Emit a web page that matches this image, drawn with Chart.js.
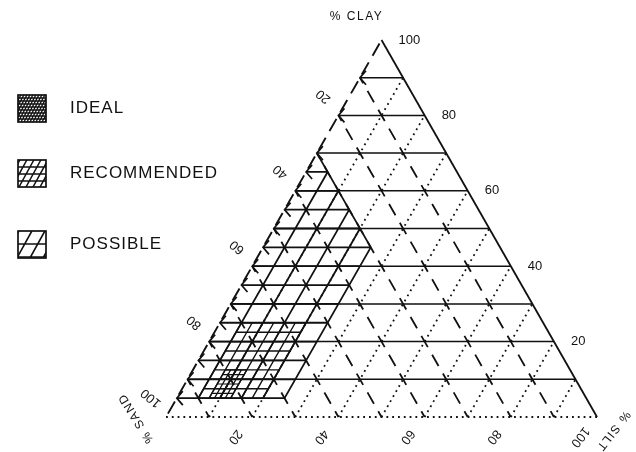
<!DOCTYPE html>
<html>
<head>
<meta charset="utf-8">
<script src="https://cdn.jsdelivr.net/npm/chart.js@4.4.1/dist/chart.umd.min.js"></script>
<style>
  html, body { margin: 0; padding: 0; background: #fff; }
  #wrap { position: relative; width: 636px; height: 452px; }
</style>
</head>
<body>
<div id="wrap"><canvas id="soilChart"></canvas></div>
<script>
// 1. DATA (percent values on the texture triangle)
const gridSteps = [10, 20, 30, 40, 50, 60, 70, 80, 90];
const clayLabels = ['100', '80', '60', '40', '20'];
const clayLabelValues = [100, 80, 60, 40, 20];
const sandLabels = ['20', '40', '60', '80', '100'];
const sandLabelValues = [20, 40, 60, 80, 100];
const siltLabels = ['20', '40', '60', '80', '100'];
const siltLabelValues = [20, 40, 60, 80, 100];
const legendNames = ['IDEAL', 'RECOMMENDED', 'POSSIBLE'];

// zones: clay range, silt range, minimum sand, hatch step
const possibleClay = [5, 70];
const possibleSilt = [0, 25];
const possibleSandMin = 30;
const possibleStep = 5;
const recommendedClay = [5, 25];
const recommendedSilt = [5, 20];
const recommendedStep = 2.5;
const idealClay = [5, 12.5];
const idealSilt = [7.5, 12.5];
const idealStep = 1.25;

const INK = '#111';
const GAP = { x: NaN, y: NaN };   // breaks a line between segments

// clay / silt -> chart x,y
function tern(clay, silt) {
    return { x: silt + clay / 2, y: clay };
}

// build hatch lines for a zone
function zoneLines(clayR, siltR, sandMin, step, skipEdge) {
    const pts = [];
    for (let c = clayR[0]; c <= clayR[1] + 1e-6; c += step) {
        const sTop = Math.min(siltR[1], 100 - sandMin - c);
        if (sTop > siltR[0]) pts.push(tern(c, siltR[0]), tern(c, sTop), GAP);
    }
    for (let s = siltR[0]; s <= siltR[1] + 1e-6; s += step) {
        if (skipEdge && s === 0) continue;
        const cTop = Math.min(clayR[1], 100 - sandMin - s);
        if (cTop > clayR[0]) pts.push(tern(clayR[0], s), tern(cTop, s), GAP);
    }
    return pts;
}

const possiblePts = zoneLines(possibleClay, possibleSilt, possibleSandMin, possibleStep, true);
// the sand boundary of the possible zone
possiblePts.push(tern(100 - possibleSandMin, 0), tern(100 - possibleSandMin - possibleSilt[1], possibleSilt[1]), GAP);
const recommendedPts = zoneLines(recommendedClay, recommendedSilt, 0, recommendedStep, false);
const idealPts = zoneLines(idealClay, idealSilt, 0, idealStep, false);

// 2. GRID LINES
const clayLines = [];   // horizontal, solid
const sandLines = [];   // parallel to right side, dashed
const siltLines = [];   // parallel to left side, dotted
gridSteps.forEach(v => {
    clayLines.push(tern(v, 0), tern(v, 100 - v), GAP);
    sandLines.push(tern(100 - v, 0), tern(0, 100 - v), GAP);
    siltLines.push(tern(0, v), tern(100 - v, v), GAP);
});

function lineSet(data, width, dash, offset) {
    return {
        data: data,
        showLine: true,
        spanGaps: false,
        borderColor: INK,
        borderWidth: width,
        borderDash: dash || [],
        borderDashOffset: offset || 0,
        pointRadius: 0,
        fill: false
    };
}

// 3. TEXT, ARROWS AND LEGEND
const decorPlugin = {
    id: 'decor',
    afterDatasetsDraw(chart) {
        const { ctx, scales: { x, y } } = chart;
        const px = p => ({ x: x.getPixelForValue(p.x), y: y.getPixelForValue(p.y) });
        ctx.save();
        ctx.strokeStyle = INK;
        ctx.fillStyle = INK;
        ctx.lineWidth = 1.7;

        // arrow heads on the left side
        const arrowClay = gridSteps.slice();
        for (let c = possibleClay[0]; c < possibleClay[1]; c += possibleStep) {
            if (!arrowClay.includes(c)) arrowClay.push(c);
        }
        arrowClay.forEach(c => {
            const p = px(tern(c, 0));
            ctx.beginPath();
            ctx.moveTo(p.x + 6, p.y - 7);
            ctx.lineTo(p.x, p.y);
            ctx.lineTo(p.x + 6, p.y + 7);
            ctx.stroke();
        });

        ctx.font = '13px "Liberation Sans", Arial, sans-serif';
        ctx.textBaseline = 'middle';

        // clay labels, right side
        ctx.textAlign = 'left';
        clayLabelValues.forEach((v, i) => {
            const p = px(tern(v, 100 - v));
            ctx.fillText(clayLabels[i], p.x + 17, p.y);
        });

        const rotText = (txt, cx, cy, deg) => {
            ctx.save();
            ctx.translate(cx, cy);
            ctx.rotate(deg * Math.PI / 180);
            ctx.textAlign = 'center';
            ctx.fillText(txt, 0, 0);
            ctx.restore();
        };

        // sand labels, left side
        sandLabelValues.forEach((v, i) => {
            const p = px(tern(100 - v, 0));
            rotText(sandLabels[i], p.x - 15, p.y - 19, 220);
        });
        // silt labels, bottom
        siltLabelValues.forEach((v, i) => {
            const p = px(tern(0, v));
            rotText(siltLabels[i], p.x - 17, p.y + 20, 128);
        });

        ctx.font = '12px "Liberation Sans", Arial, sans-serif';
        ctx.letterSpacing = '1.5px';
        const apex = px(tern(100, 0));
        ctx.textAlign = 'center';
        ctx.fillText('% CLAY', apex.x - 25, 17);
        const left = px(tern(0, 0));
        rotText('% SAND', left.x - 30, left.y + 1, 238);
        const right = px(tern(0, 100));
        rotText('% SILT', right.x + 16, right.y + 14, 128);

        // legend
        const boxes = [
            { y: 95, step: 3, lw: 1.3 },
            { y: 160, step: 7, lw: 1.5 },
            { y: 231, step: 13, lw: 1.6 }
        ];
        ctx.font = '17px "Liberation Sans", Arial, sans-serif';
        ctx.letterSpacing = '1px';
        ctx.textAlign = 'left';
        boxes.forEach((b, i) => {
            const bx = 18, bw = 28, bh = 27;
            ctx.save();
            ctx.beginPath();
            ctx.rect(bx, b.y, bw, bh);
            ctx.clip();
            ctx.lineWidth = b.lw;
            ctx.beginPath();
            for (let yy = b.y + b.step; yy < b.y + bh; yy += b.step) {
                ctx.moveTo(bx, yy);
                ctx.lineTo(bx + bw, yy);
            }
            for (let k = -bh; k < bw + bh; k += b.step) {
                ctx.moveTo(bx + k, b.y + bh);
                ctx.lineTo(bx + k + bh * 0.55, b.y);
            }
            ctx.stroke();
            ctx.restore();
            ctx.lineWidth = 1.7;
            ctx.strokeRect(bx, b.y, bw, bh);
            ctx.fillText(legendNames[i], 70, b.y + bh / 2);
        });
        ctx.restore();
    }
};

// 4. CHART
new Chart(document.getElementById('soilChart'), {
    type: 'scatter',
    data: {
        datasets: [
            lineSet(idealPts, 1.2),
            lineSet(recommendedPts, 1.4),
            lineSet(possiblePts, 1.8),
            lineSet(clayLines, 1.5),
            lineSet(sandLines, 1.8, [13, 8.7], 6.5),
            lineSet(siltLines, 1.8, [1.8, 4]),
            lineSet([tern(0, 0), tern(100, 0)], 1.9, [14, 7.7], 17.8),
            lineSet([tern(0, 0), tern(0, 100)], 1.9, [1.8, 4]),
            lineSet([tern(0, 100), tern(100, 0)], 1.8)
        ]
    },
    plugins: [decorPlugin],
    options: {
        responsive: true,
        maintainAspectRatio: false,
        animation: false,
        events: [],
        layout: { padding: 0 },
        plugins: { legend: { display: false }, tooltip: { enabled: false } },
        scales: {
            x: { type: 'linear', display: false, min: -38.52, max: 109.04 },
            y: { type: 'linear', display: false, min: -9.28, max: 110.61 }
        }
    }
});
</script>
</body>
</html>
